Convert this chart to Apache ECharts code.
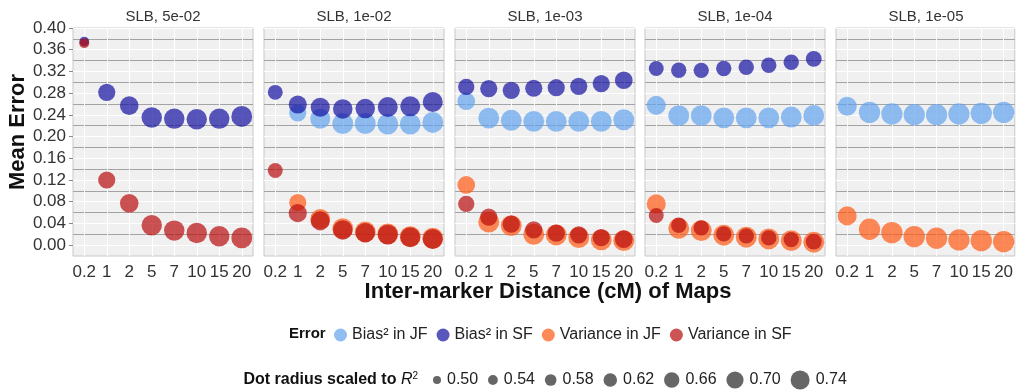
<!DOCTYPE html>
<html>
<head>
<meta charset="utf-8">
<script src="https://cdn.jsdelivr.net/npm/echarts@6/dist/echarts.min.js"></script>
<style>
  html, body { margin: 0; padding: 0; background: #fff; }
  #chart { width: 1016px; height: 390px; }
</style>
</head>
<body>
<div id="chart"></div>
<script>
// categories
const distances = ['0.2', '1', '2', '5', '7', '10', '15', '20'];
const panelTitles = ['SLB, 5e-02', 'SLB, 1e-02', 'SLB, 1e-03', 'SLB, 1e-04', 'SLB, 1e-05'];
const yTicks = [0, 0.04, 0.08, 0.12, 0.16, 0.2, 0.24, 0.28, 0.32, 0.36, 0.4];
const yMinor = [0.02, 0.06, 0.1, 0.14, 0.18, 0.22, 0.26, 0.3, 0.34, 0.38];
const r2Breaks = [0.5, 0.54, 0.58, 0.62, 0.66, 0.7, 0.74];

const N = null;
const none = [N, N, N, N, N, N, N, N];

// mean error, one row per panel
const biasJF = [
  none,
  [N, 0.2435, 0.233, 0.224, 0.224, 0.223, 0.223, 0.226],
  [0.265, 0.234, 0.230, 0.228, 0.228, 0.228, 0.228, 0.231],
  [0.2575, 0.2385, 0.2385, 0.2345, 0.2345, 0.2345, 0.236, 0.239],
  [0.2557, 0.2446, 0.2416, 0.2403, 0.2403, 0.2416, 0.2428, 0.2446]
];
const biasSF = [
  [0.375, 0.2815, 0.257, 0.235, 0.233, 0.232, 0.233, 0.237],
  [0.2815, 0.259, 0.254, 0.251, 0.2515, 0.2545, 0.2557, 0.2638],
  [0.2915, 0.2884, 0.2852, 0.289, 0.290, 0.2926, 0.2976, 0.3037],
  [0.3253, 0.3222, 0.322, 0.3253, 0.3277, 0.3314, 0.3369, 0.343],
  none
];
const varJF = [
  none,
  [N, 0.0785, 0.048, 0.0305, 0.0244, 0.0207, 0.0157, 0.0127],
  [0.111, 0.0423, 0.036, 0.020, 0.0188, 0.0139, 0.0096, 0.0083],
  [0.076, 0.031, 0.0268, 0.0183, 0.0146, 0.0114, 0.0083, 0.0054],
  [0.0539, 0.0293, 0.0231, 0.0157, 0.0127, 0.0096, 0.0083, 0.0065]
];
const varSF = [
  [0.372, 0.120, 0.077, 0.0367, 0.0268, 0.0225, 0.0164, 0.0133],
  [0.1375, 0.0589, 0.0447, 0.028, 0.023, 0.0194, 0.0146, 0.0114],
  [0.076, 0.0515, 0.0386, 0.028, 0.022, 0.0188, 0.0139, 0.011],
  [0.0545, 0.0367, 0.0318, 0.0207, 0.017, 0.0133, 0.0102, 0.0065],
  none
];

// R^2 (dot radius)
const r2JF = [
  none,
  [N, 0.70, 0.76, 0.78, 0.78, 0.78, 0.78, 0.78],
  [0.71, 0.78, 0.78, 0.78, 0.78, 0.78, 0.78, 0.78],
  [0.74, 0.78, 0.78, 0.78, 0.78, 0.78, 0.78, 0.78],
  [0.74, 0.79, 0.79, 0.79, 0.79, 0.79, 0.79, 0.79]
];
const r2SF = [
  [0.54, 0.70, 0.73, 0.77, 0.77, 0.77, 0.77, 0.78],
  [0.65, 0.72, 0.74, 0.75, 0.75, 0.76, 0.76, 0.76],
  [0.68, 0.70, 0.70, 0.70, 0.70, 0.70, 0.70, 0.71],
  [0.65, 0.66, 0.66, 0.66, 0.66, 0.66, 0.66, 0.67],
  none
];

const errorTypes = [
  { name: 'Bias² in JF', values: biasJF, r2: r2JF, color: '#62a2ec' },
  { name: 'Bias² in SF', values: biasSF, r2: r2SF, color: '#120f9f' },
  { name: 'Variance in JF', values: varJF, r2: r2JF, color: '#ff5912' },
  { name: 'Variance in SF', values: varSF, r2: r2SF, color: '#b60b0b' }
];

const FONT = '"Liberation Sans", Arial, sans-serif';
const panelLeft = [73, 264, 455, 645, 836];
const panelW = 180;
const panelTop = 28;
const panelH = 228;

// diameter in px for an R^2 value
function dotSize(r2) {
  return 8 + (r2 - 0.5) * 46;
}

const minorLine = { color: '#a3a3a3', width: 1, type: 'solid' };
const majorLine = { color: '#ffffff', width: 1, type: 'solid' };

const grids = [];
const xAxes = [];
const yAxes = [];
const series = [];
const graphics = [];

panelTitles.forEach((title, p) => {
  grids.push({
    left: panelLeft[p], top: panelTop, width: panelW, height: panelH,
    show: true, backgroundColor: '#f0f0f0', borderColor: '#c8c8c8', borderWidth: 1
  });
  xAxes.push({
    type: 'category', gridIndex: p, data: distances, boundaryGap: true,
    axisLine: { show: false },
    axisTick: { show: true, alignWithLabel: true, length: 5, lineStyle: { color: '#888' } },
    axisLabel: { interval: 0, fontSize: 17, color: '#333', margin: 8, fontFamily: FONT },
    splitLine: { show: false }
  });
  yAxes.push({
    type: 'value', gridIndex: p, position: 'left', min: -0.02, max: 0.4,
    axisLine: { show: false },
    axisTick: { show: p === 0, customValues: yTicks, length: 4, lineStyle: { color: '#888' } },
    axisLabel: {
      show: p === 0, customValues: yTicks, fontSize: 17, color: '#333', margin: 7, fontFamily: FONT,
      formatter: (v) => v.toFixed(2)
    },
    splitLine: { show: false }
  });

  // panel grid: dark minor lines, then white major lines
  const gridLines = []
    .concat(yMinor.map((v) => ({ yAxis: v, lineStyle: minorLine })))
    .concat(yTicks.map((v) => ({ yAxis: v, lineStyle: majorLine })))
    .concat(distances.map((d) => ({ xAxis: d, lineStyle: majorLine })));
  series.push({
    type: 'line', xAxisIndex: p, yAxisIndex: p, data: [], z: 1, silent: true,
    markLine: {
      z: 1, silent: true, symbol: ['none', 'none'], animation: false,
      label: { show: false },
      lineStyle: majorLine,
      emphasis: { disabled: true },
      data: gridLines
    }
  });

  errorTypes.forEach((et) => {
    const data = [];
    distances.forEach((d, i) => {
      const v = et.values[p][i];
      if (v !== null) data.push([d, v, et.r2[p][i]]);
    });
    series.push({
      name: et.name, type: 'scatter', xAxisIndex: p, yAxisIndex: p, z: 3,
      data: data,
      symbolSize: (v) => dotSize(v[2]),
      itemStyle: { color: et.color, opacity: 0.7 },
      emphasis: { disabled: true }
    });
  });

  graphics.push({
    type: 'text', x: panelLeft[p] + panelW / 2, y: 17, silent: true,
    style: { text: title, fontSize: 15, fontFamily: FONT, fill: '#333', align: 'center', verticalAlign: 'middle' }
  });
});

// axis titles
graphics.push({
  type: 'text', x: 18, y: 132, rotation: Math.PI / 2, silent: true,
  style: { text: 'Mean Error', fontSize: 22, fontWeight: 'bold', fontFamily: FONT, fill: '#111', align: 'center', verticalAlign: 'middle' }
});
graphics.push({
  type: 'text', x: 548, y: 292, silent: true,
  style: { text: 'Inter-marker Distance (cM) of Maps', fontSize: 22, fontWeight: 'bold', fontFamily: FONT, fill: '#111', align: 'center', verticalAlign: 'middle' }
});

// colour legend title
graphics.push({
  type: 'text', x: 289, y: 334, silent: true,
  style: { text: 'Error', fontSize: 15, fontWeight: 'bold', fontFamily: FONT, fill: '#111', align: 'left', verticalAlign: 'middle' }
});

// size legend
const sizeY = 380;
graphics.push({
  type: 'text', x: 418, y: sizeY, silent: true,
  style: {
    text: '{b|Dot radius scaled to }{i|R}{s|2}',
    align: 'right', verticalAlign: 'middle',
    rich: {
      b: { fontSize: 16, fontWeight: 'bold', fontFamily: FONT, fill: '#111' },
      i: { fontSize: 16, fontStyle: 'italic', fontFamily: FONT, fill: '#111' },
      s: { fontSize: 10, fontFamily: FONT, fill: '#111', verticalAlign: 'top', padding: [0, 0, 8, 0] }
    }
  }
});
let sx = 433;
r2Breaks.forEach((b) => {
  const r = dotSize(b) / 2;
  const cx = sx + r;
  graphics.push({ type: 'circle', silent: true, shape: { cx: cx, cy: sizeY, r: r }, style: { fill: '#666' } });
  graphics.push({
    type: 'text', x: cx + r + 6, y: sizeY, silent: true,
    style: { text: b.toFixed(2), fontSize: 16, fontFamily: FONT, fill: '#222', align: 'left', verticalAlign: 'middle' }
  });
  sx = cx + r + 6 + 31 + 10;
});

const chart = echarts.init(document.getElementById('chart'), null, { renderer: 'canvas' });
chart.setOption({
  animation: false,
  textStyle: { fontFamily: FONT },
  grid: grids,
  xAxis: xAxes,
  yAxis: yAxes,
  legend: {
    data: errorTypes.map((e) => e.name),
    left: 334, top: 327, padding: 0, icon: 'circle', itemWidth: 13, itemHeight: 13, itemGap: 9,
    selectedMode: false,
    textStyle: { fontSize: 16, color: '#222', fontFamily: FONT }
  },
  graphic: graphics,
  series: series
});
</script>
</body>
</html>
